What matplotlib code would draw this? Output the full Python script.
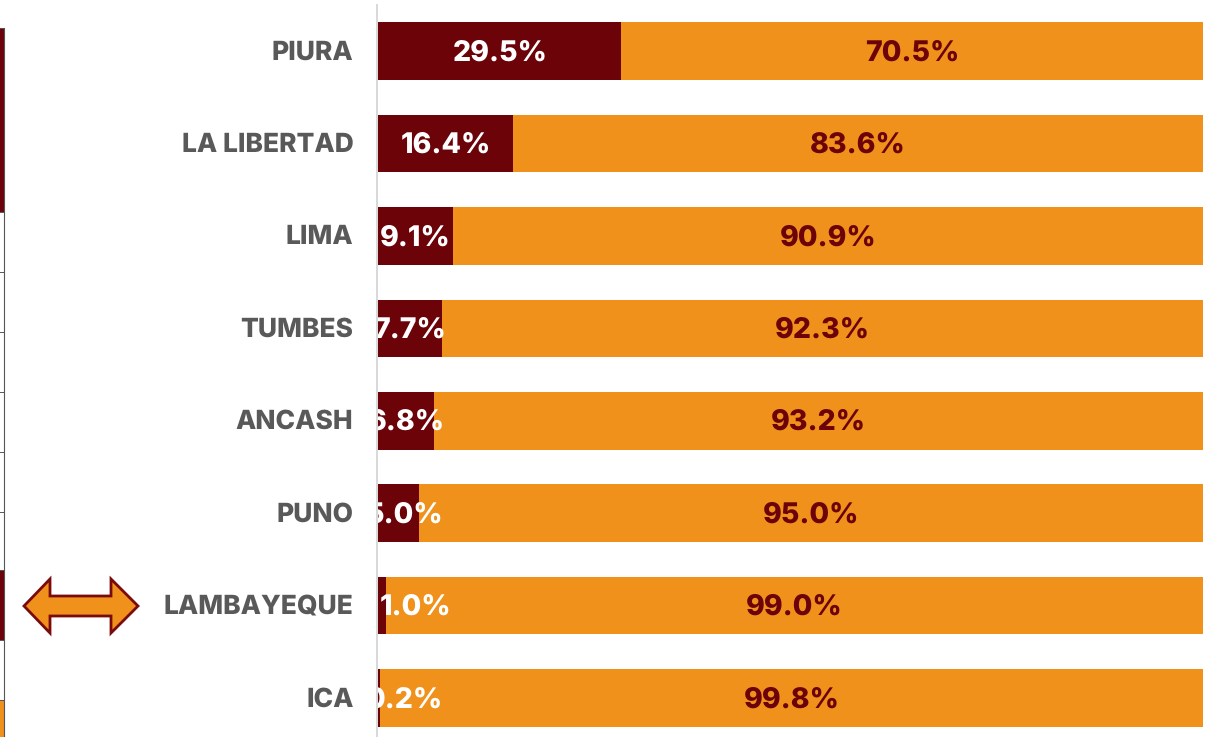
import matplotlib
matplotlib.use("Agg")
import matplotlib.pyplot as plt
from matplotlib.patches import Polygon, Rectangle
from matplotlib.transforms import ScaledTranslation

plt.rcParams["text.hinting"] = "no_hinting"
plt.rcParams["text.hinting_factor"] = 1

W, H = 1207, 737
DPI = 100
FONT = "Inter"
DARK = "#6B0308"
ORANGE = "#F0911B"
GREY = "#595959"
AXIS = "#D9D9D9"

regions = ["PIURA", "LA LIBERTAD", "LIMA", "TUMBES", "ANCASH", "PUNO", "LAMBAYEQUE", "ICA"]
share_dark = [29.5, 16.4, 9.1, 7.7, 6.8, 5.0, 1.0, 0.2]
share_orange = [70.5, 83.6, 90.9, 92.3, 93.2, 95.0, 99.0, 99.8]
# horizontal nudge of the dark labels, in pixels, as placed in the reference
dark_label_nudge = [0, 0, 0, 0, 0, 6, 33, 26]

fig = plt.figure(figsize=(W / DPI, H / DPI), dpi=DPI, facecolor="white")

# Pixel-space overlay for the cropped table edge and the arrow
bg = fig.add_axes([0, 0, 1, 1])
bg.set_xlim(0, W)
bg.set_ylim(H, 0)
bg.axis("off")
for y0, y1, c in [(28, 212, DARK), (570, 640, DARK), (700, 737, ORANGE)]:
    bg.add_patch(Rectangle((0, y0), 4, y1 - y0, fc=c, ec="none"))
bg.plot([4, 4], [28, 737], color="#555555", lw=0.8)
for y in [28, 212, 272, 332, 392, 452, 512, 570, 640, 700]:
    bg.plot([0, 4], [y, y], color="#555555", lw=0.7)
bg.add_patch(Polygon(
    [(24, 606), (50, 579), (50, 596), (111, 596), (111, 579), (138, 606),
     (111, 633), (111, 616), (50, 616), (50, 633)],
    closed=True, fc=ORANGE, ec="#7A0A0C", lw=2, joinstyle="miter"))

# Main chart
left, right, top, bottom = 378, 1203, 5, 737
ax = fig.add_axes([left / W, 1 - bottom / H, (right - left) / W, (bottom - top) / H])
ax.patch.set_alpha(0)
pos = list(range(len(regions)))
step = 92.45
first = 51
ax.set_xlim(0, 100)
ax.set_ylim((bottom - first) / step, (top - first) / step)
ax.barh(pos, share_dark, height=0.622, color=DARK)
ax.barh(pos, share_orange, left=share_dark, height=0.622, color=ORANGE)

for i, (a, b, n) in enumerate(zip(share_dark, share_orange, dark_label_nudge)):
    ax.annotate(f"{a:.1f}%", (a / 2, i + 0.02), xytext=(n * 0.72, 0), textcoords="offset points",
                ha="center", va="center", color="white",
                fontsize=20.5, fontweight="heavy", family=FONT, annotation_clip=False, clip_on=True)
    ax.text(a + b / 2, i + 0.02, f"{b:.1f}%", ha="center", va="center", color=DARK,
            fontsize=20.5, fontweight="heavy", family=FONT, clip_on=True)

ax.set_xticks([])
ax.set_yticks([])
label_tr = ax.get_yaxis_transform() + ScaledTranslation(-24.5 / DPI, 0, fig.dpi_scale_trans)
for i, name in enumerate(regions):
    ax.text(0, i + 0.015, name, transform=label_tr, ha="right", va="center",
            fontsize=19, fontweight="heavy", family=FONT, color=GREY, clip_on=False)
for s in ["top", "right", "bottom"]:
    ax.spines[s].set_visible(False)
ax.spines["left"].set_color(AXIS)
ax.spines["left"].set_linewidth(1.44)
ax.spines["left"].set_position(("outward", 0.72))

fig.savefig("out.png", dpi=DPI)
